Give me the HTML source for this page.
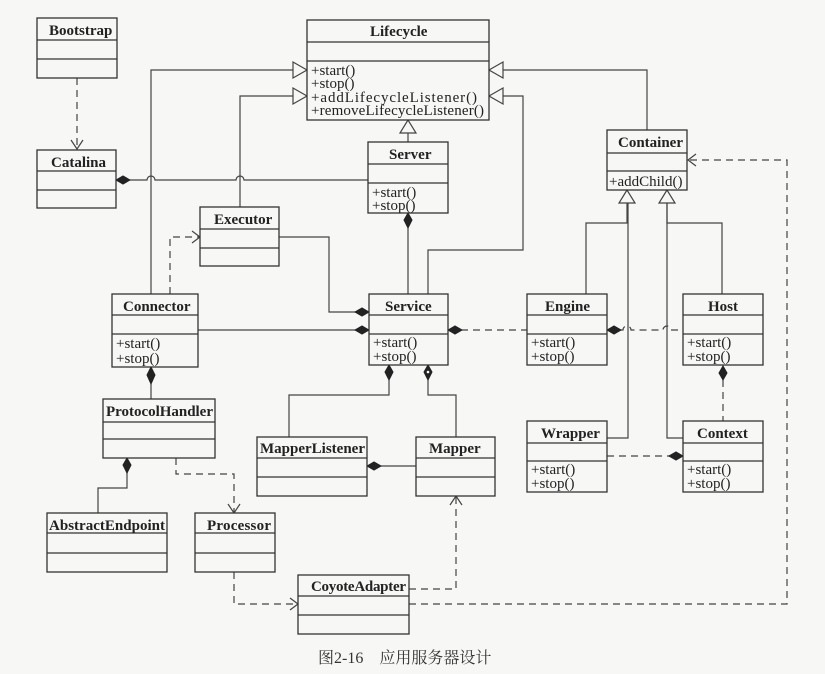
<!DOCTYPE html>
<html><head><meta charset="utf-8"><style>
html,body{margin:0;padding:0;background:#f7f7f5;}
svg{display:block}
.n{font-family:"Liberation Serif",serif;font-weight:bold;font-size:15px;fill:#222}
.m{font-family:"Liberation Serif",serif;font-size:15px;fill:#222}
</style></head><body>
<svg width="825" height="674" viewBox="0 0 825 674" xmlns="http://www.w3.org/2000/svg">
<rect width="825" height="674" fill="#f7f7f5"/>
<g fill="none" stroke="#444" stroke-width="1.2">
<path d="M151 294V70H300"/>
<path d="M240 207V96H300"/>
<path d="M647 130V70H496"/>
<path d="M428 294V250H523V96H496"/>
<path d="M408 142V131"/>
<path d="M408 228V294"/>
<path d="M279 237H329V312H356"/>
<path d="M198 330H356"/>
<path d="M151 384V399"/>
<path d="M389 380V395H289V437"/>
<path d="M428 380V395H456V437"/>
<path d="M380 466H416"/>
<path d="M127 472V488H98V513"/>
<path d="M586 294V223H627V203"/>
<path d="M722 294V223H667V203"/>
<path d="M607 438H628V203"/>
<path d="M683 438H667V203"/>
<path d="M130 180H147a4 4 0 0 1 8 0H236a4 4 0 0 1 8 0H368"/>
<g stroke-dasharray="7,5">
<path d="M77 78V149"/>
<path d="M170 294V237H199"/>
<path d="M461 330H528"/>
<path d="M620 330H623a4 4 0 0 1 8 0H663a4 4 0 0 1 8 0H683"/>
<path d="M176 458V474H234V512"/>
<path d="M234 572V604H297"/>
<path d="M409 589H456V497"/>
<path d="M409 604H787V160H688"/>
<path d="M607 456H670"/>
<path d="M723 380V421"/>
</g>
<path d="M71 140L77 149L83 140"/>
<path d="M192 231L200 237L192 243"/>
<path d="M228 504L234 513L240 504"/>
<path d="M290 598L298 604L290 610"/>
<path d="M450 505L456 496L462 505"/>
<path d="M696 154L688 160L696 166"/>
</g>
<g fill="#f7f7f5" stroke="#444" stroke-width="1.2">
<path d="M307 70L293 62V78Z"/>
<path d="M307 96L293 88V104Z"/>
<path d="M489 70L503 62V78Z"/>
<path d="M489 96L503 88V104Z"/>
<path d="M408 120L400 133H416Z"/>
<path d="M627 190L619 203H635Z"/>
<path d="M667 190L659 203H675Z"/>
</g>
<g fill="#222" stroke="#222">
<path d="M116 180L123 176L130 180L123 184Z"/>
<path d="M408 213L412 220L408 228L404 220Z"/>
<path d="M369 312L362 308L355 312L362 316Z"/>
<path d="M369 330L362 326L355 330L362 334Z"/>
<path d="M448 330L455 326L462 330L455 334Z"/>
<path d="M607 330L614 326L621 330L614 334Z"/>
<path d="M151 367L155 375L151 384L147 375Z"/>
<path d="M127 458L131 465L127 473L123 465Z"/>
<path d="M389 365L393 372L389 380L385 372Z"/>
<path d="M428 365L432 372L428 380L424 372Z"/>
<path d="M367 466L374 462L381 466L374 470Z"/>
<path d="M683 456L676 452L669 456L676 460Z"/>
<path d="M723 366L727 373L723 380L719 373Z"/>
</g>
<circle cx="428" cy="372" r="1.3" fill="#fff"/>
<g fill="#f7f7f5" stroke="#333" stroke-width="1.3">
<rect x="37" y="18" width="80" height="60"/><path d="M37 40H117M37 59H117"/>
<rect x="37" y="150" width="79" height="58"/><path d="M37 171H116M37 190H116"/>
<rect x="307" y="20" width="182" height="100"/><path d="M307 42H489M307 61H489"/>
<rect x="368" y="142" width="80" height="71"/><path d="M368 164H448M368 183H448"/>
<rect x="607" y="130" width="80" height="60"/><path d="M607 153H687M607 171H687"/>
<rect x="200" y="207" width="79" height="59"/><path d="M200 229H279M200 248H279"/>
<rect x="112" y="294" width="86" height="73"/><path d="M112 315H198M112 334H198"/>
<rect x="369" y="294" width="79" height="71"/><path d="M369 315H448M369 334H448"/>
<rect x="527" y="294" width="80" height="71"/><path d="M527 315H607M527 334H607"/>
<rect x="683" y="294" width="80" height="71"/><path d="M683 315H763M683 334H763"/>
<rect x="103" y="399" width="112" height="59"/><path d="M103 422H215M103 439H215"/>
<rect x="257" y="437" width="110" height="59"/><path d="M257 458H367M257 477H367"/>
<rect x="416" y="437" width="79" height="59"/><path d="M416 458H495M416 477H495"/>
<rect x="527" y="421" width="80" height="71"/><path d="M527 443H607M527 461H607"/>
<rect x="683" y="421" width="80" height="71"/><path d="M683 443H763M683 461H763"/>
<rect x="47" y="513" width="120" height="59"/><path d="M47 533H167M47 553H167"/>
<rect x="195" y="513" width="80" height="59"/><path d="M195 533H275M195 553H275"/>
<rect x="298" y="575" width="111" height="59"/><path d="M298 596H409M298 615H409"/>
</g>
<g class="n">
<text x="49" y="35">Bootstrap</text>
<text x="51" y="167">Catalina</text>
<text x="370" y="36">Lifecycle</text>
<text x="389" y="159">Server</text>
<text x="618" y="147">Container</text>
<text x="214" y="224">Executor</text>
<text x="123" y="311">Connector</text>
<text x="385" y="311">Service</text>
<text x="545" y="311">Engine</text>
<text x="708" y="311">Host</text>
<text x="106" y="416" textLength="107">ProtocolHandler</text>
<text x="260" y="453" textLength="105">MapperListener</text>
<text x="429" y="453">Mapper</text>
<text x="541" y="438">Wrapper</text>
<text x="697" y="438">Context</text>
<text x="49" y="530" textLength="116">AbstractEndpoint</text>
<text x="207" y="530" textLength="64">Processor</text>
<text x="311" y="591" textLength="95">CoyoteAdapter</text>
</g>
<g class="m">
<text x="311" y="75">+start()</text><text x="311" y="88">+stop()</text>
<text x="311" y="102" textLength="166">+addLifecycleListener()</text><text x="311" y="115" textLength="173">+removeLifecycleListener()</text>
<text x="372" y="197">+start()</text><text x="372" y="210">+stop()</text>
<text x="609" y="186">+addChild()</text>
<text x="116" y="348">+start()</text><text x="116" y="363">+stop()</text>
<text x="373" y="347">+start()</text><text x="373" y="361">+stop()</text>
<text x="531" y="347">+start()</text><text x="531" y="361">+stop()</text>
<text x="687" y="347">+start()</text><text x="687" y="361">+stop()</text>
<text x="531" y="474">+start()</text><text x="531" y="488">+stop()</text>
<text x="687" y="474">+start()</text><text x="687" y="488">+stop()</text>
</g>
<text x="318" y="663" style="font-family:'Liberation Serif','Noto Serif CJK SC',serif;font-size:16px;fill:#333">图2-16　应用服务器设计</text>
</svg>
</body></html>
